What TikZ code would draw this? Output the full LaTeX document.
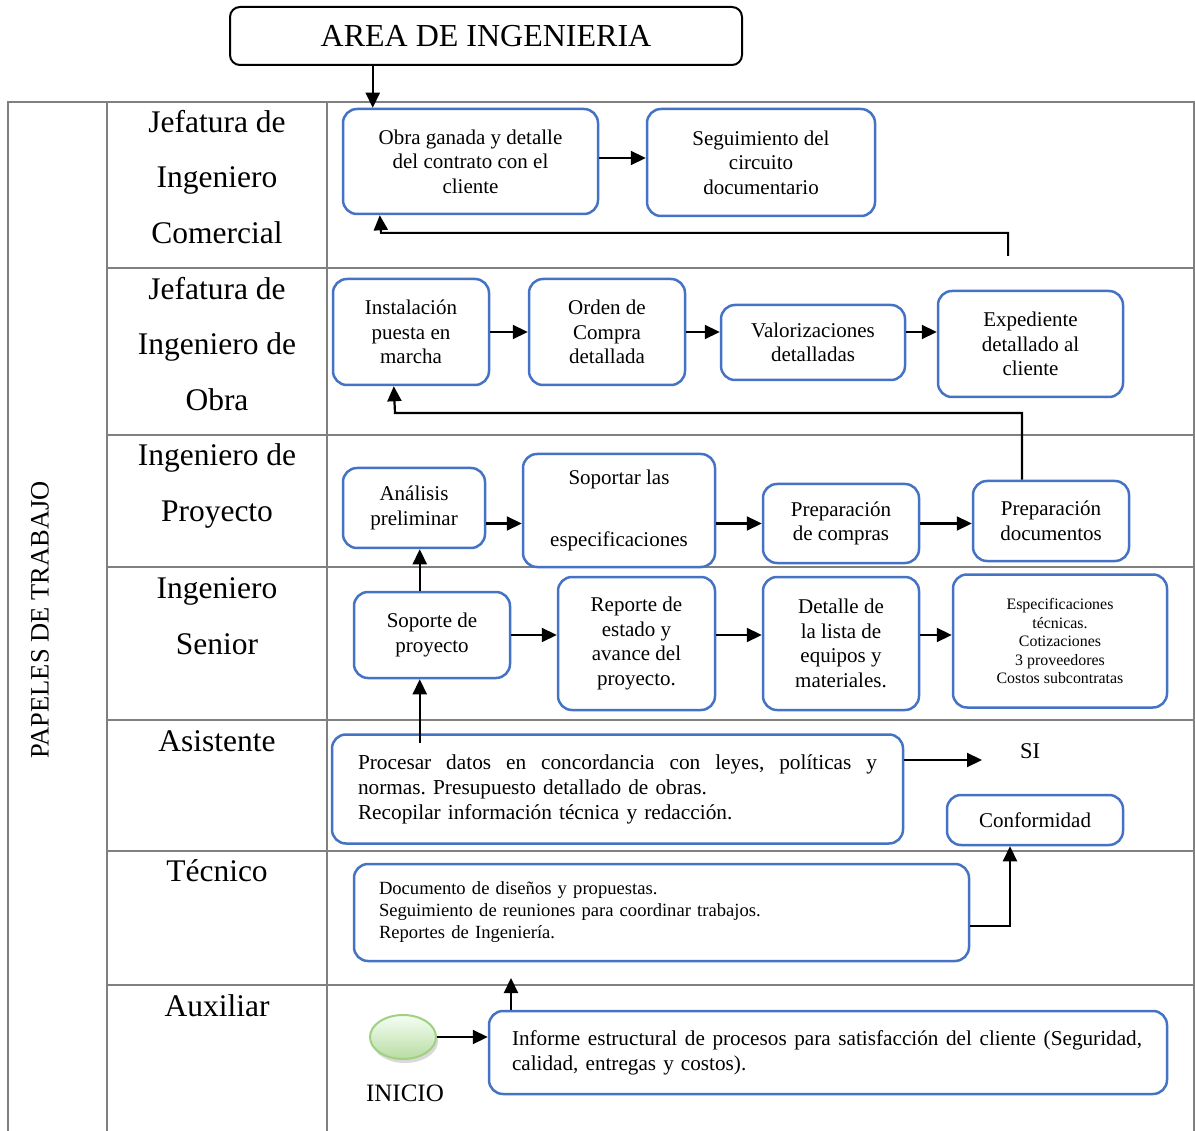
\documentclass[tikz,border=0pt]{standalone}
\usepackage{fontspec}
\setmainfont{Liberation Serif}
\usetikzlibrary{arrows.meta}
\usetikzlibrary{shapes.geometric}
\usetikzlibrary{shadows}
\frenchspacing
\tikzset{lane/.style = {draw = mgray, line width = 2pt}}
\tikzset{role/.style = {align = center, font = \fontsize{31.5}{55.5}\selectfont}}
\tikzset{task/.style = {draw = mblue, line width = 2.5pt, rounded corners = 14pt, fill = white,
    align = center, inner sep = 0, font = \fontsize{21}{24.5}\selectfont}}
\tikzset{flow/.style = {line width = 2.2pt, -{Triangle[length = 15pt, width = 14pt]}}}
\definecolor{mblue}{RGB}{68, 114, 196}
\definecolor{mgray}{RGB}{128, 128, 128}
\definecolor{mgreen}{RGB}{160, 208, 130}

\begin{document}
\begin{tikzpicture}[x = 1pt, y = -1pt]
    \useasboundingbox (0, 0) rectangle (1195, 1131);
    % table
    \draw [lane] (8, 1131) -- (8, 102) -- (1194, 102) -- (1194, 1131);
    \draw [lane] (107, 102) -- (107, 1131);
    \draw [lane] (327, 102) -- (327, 1131);
    \foreach \y in {268, 435, 567, 720, 851, 985}
      \draw [lane] (107, \y) -- (1194, \y);
    \node [rotate = 90, font = \fontsize{26.5}{30}\selectfont] (papeles) at (40, 620) {PAPELES DE TRABAJO};
    \node [role] (comercial) at (217, 177) {Jefatura de\\Ingeniero\\Comercial};
    \node [role] (obra) at (217, 344) {Jefatura de\\Ingeniero de\\Obra};
    \node [role] (proyecto) at (217, 486) {Ingeniero de\\Proyecto};
    \node [role] (senior) at (217, 616) {Ingeniero\\Senior};
    \node [role] (asistente) at (217, 741) {Asistente};
    \node [role] (tecnico) at (217, 871) {Técnico};
    \node [role] (auxiliar) at (217, 1006) {Auxiliar};

    % title
    \node [draw, line width = 2pt, rounded corners = 10pt, minimum width = 512, minimum height = 58,
      font = \fontsize{32}{36}\selectfont] (area) at (486, 36) {\raisebox{-4pt}{AREA DE INGENIERIA}};

    % tasks
    \node [task, minimum width = 255, minimum height = 105] (ganada) at (470.5, 161.5) {Obra ganada y detalle\\del contrato con el\\cliente};
    \node [task, minimum width = 228, minimum height = 107] (seguim) at (761, 162.5) {Seguimiento del\\circuito\\documentario};
    \node [task, minimum width = 156, minimum height = 106] (instal) at (411, 332) {Instalación\\puesta en\\marcha};
    \node [task, minimum width = 156, minimum height = 106] (orden) at (607, 332) {Orden de\\Compra\\detallada};
    \node [task, minimum width = 184, minimum height = 75] (valor) at (813, 342.5) {Valorizaciones\\detalladas};
    \node [task, minimum width = 185, minimum height = 106] (exped) at (1030.5, 344) {Expediente\\detallado al\\cliente};
    \node [task, minimum width = 142, minimum height = 80] (analisis) at (414, 508) {Análisis\\preliminar};
    \node [task, minimum width = 192, minimum height = 113] (soportar) at (619, 510.5) {Soportar las\\[37.5pt]especificaciones};
    \node [task, minimum width = 156, minimum height = 79] (prepcomp) at (841, 523.5) {Preparación\\de compras};
    \node [task, minimum width = 156, minimum height = 80] (prepdoc) at (1051, 521) {Preparación\\documentos};
    \node [task, minimum width = 156, minimum height = 86] (soporte) at (432, 635) {Soporte de\\proyecto};
    \node [task, minimum width = 157, minimum height = 133] (reporte) at (636.5, 643.5) {Reporte de\\estado y\\avance del\\proyecto.};
    \node [task, minimum width = 156, minimum height = 133] (detalle) at (841, 643.5) {Detalle de\\la lista de\\equipos y\\materiales.};
    \node [task, minimum width = 214, minimum height = 133, font = \fontsize{15.9}{18.5}\selectfont] (especif) at (1060, 641)
      {Especificaciones\\técnicas.\\Cotizaciones\\3 proveedores\\Costos subcontratas};
    \node [task, minimum width = 571, minimum height = 109, text width = 519, inner xsep = 26, align = left,
      font = \fontsize{21.3}{25}\selectfont] (procesar) at (617.5, 789)
      {\hbox to 519pt{Procesar\hfill datos\hfill en\hfill concordancia\hfill con\hfill leyes,\hfill políticas\hfill y}\\
       normas. Presupuesto detallado de obras.\\
       Recopilar información técnica y redacción.};
    \node [font = \fontsize{22.5}{26}\selectfont] (si) at (1030, 751) {SI};
    \node [task, minimum width = 176, minimum height = 50] (conform) at (1035, 820) {Conformidad};
    \node [task, minimum width = 615, minimum height = 97, text width = 565, inner xsep = 25, align = left,
      font = \fontsize{18.6}{22}\selectfont] (docum) at (661.5, 912.5)
      {Documento de diseños y propuestas.\\
       Seguimiento de reuniones para coordinar trabajos.\\
       Reportes de Ingeniería.};
    \node [task, minimum width = 678, minimum height = 83, text width = 632, inner xsep = 23, align = left,
      font = \fontsize{21.2}{25}\selectfont] (informe) at (828, 1052.5)
      {\hbox to 630pt{Informe\hfill estructural\hfill de\hfill procesos\hfill para\hfill satisfacción\hfill del\hfill cliente\hfill (Seguridad,}\\
       calidad, entregas y costos).};
    \node [ellipse, draw = mgreen, line width = 2pt, top color = green!4, bottom color = mgreen!75,
      minimum width = 66, minimum height = 44,
      drop shadow = {shadow xshift = 2pt, shadow yshift = -4pt, opacity = 0.3}] (inicio) at (403, 1037) {};
    \node [font = \fontsize{25}{28}\selectfont] (inicioL) at (405, 1093) {INICIO};

    % free ends
    \coordinate (fbA) at (1008, 256);
    \coordinate (siEnd) at (982, 760);
    \coordinate (upEnd) at (511, 978);

    % connectors
    \draw [flow] ([xshift = 31pt]ganada.north west |- area.south) -- ([xshift = 31pt]ganada.north west);
    \draw [flow] ([yshift = 3.5pt]ganada.east) -- ([yshift = 3.5pt]ganada.east -| seguim.west);
    \draw [line width = 2pt, -{Triangle[length = 15pt, width = 14pt]}] (fbA) |- (381, 233) -- ([xshift = 38pt]ganada.south west);
    \draw [flow] (instal.east) -- (orden.west);
    \draw [flow] (orden.east) -- (orden.east -| valor.west);
    \draw [flow] (orden.east -| valor.east) -- (orden.east -| exped.west);
    \draw [flow] ([xshift = -29pt]prepdoc.north) |- (395, 413) -- ([xshift = 62pt]instal.south west);
    \draw [flow] (analisis.east |- prepcomp) -- (soportar.west |- prepcomp);
    \draw [flow] (soportar.east |- prepcomp) -- (prepcomp.west);
    \draw [flow] (prepcomp.east) -- (prepcomp.east -| prepdoc.west);
    \draw [flow] ([xshift = 67pt]soporte.north west) -- ([xshift = 67pt]soporte.north west |- analisis.south);
    \draw [flow] (soporte.east) -- (soporte.east -| reporte.west);
    \draw [flow] (soporte.east -| reporte.east) -- (soporte.east -| detalle.west);
    \draw [flow] (soporte.east -| detalle.east) -- (soporte.east -| especif.west);
    \draw [flow] ([xshift = 89pt, yshift = -10pt]procesar.north west) -- ([xshift = 89pt]procesar.north west |- soporte.south);
    \draw [flow] (procesar.east |- siEnd) -- (siEnd);
    \draw [flow] ([yshift = -13.5pt]docum.east) -| ([xshift = -25pt]conform.south);
    \draw [flow] (upEnd |- informe.north) -- (upEnd);
    \draw [flow] (inicio.east) -- (inicio.east -| informe.west);
\end{tikzpicture}
\end{document}
